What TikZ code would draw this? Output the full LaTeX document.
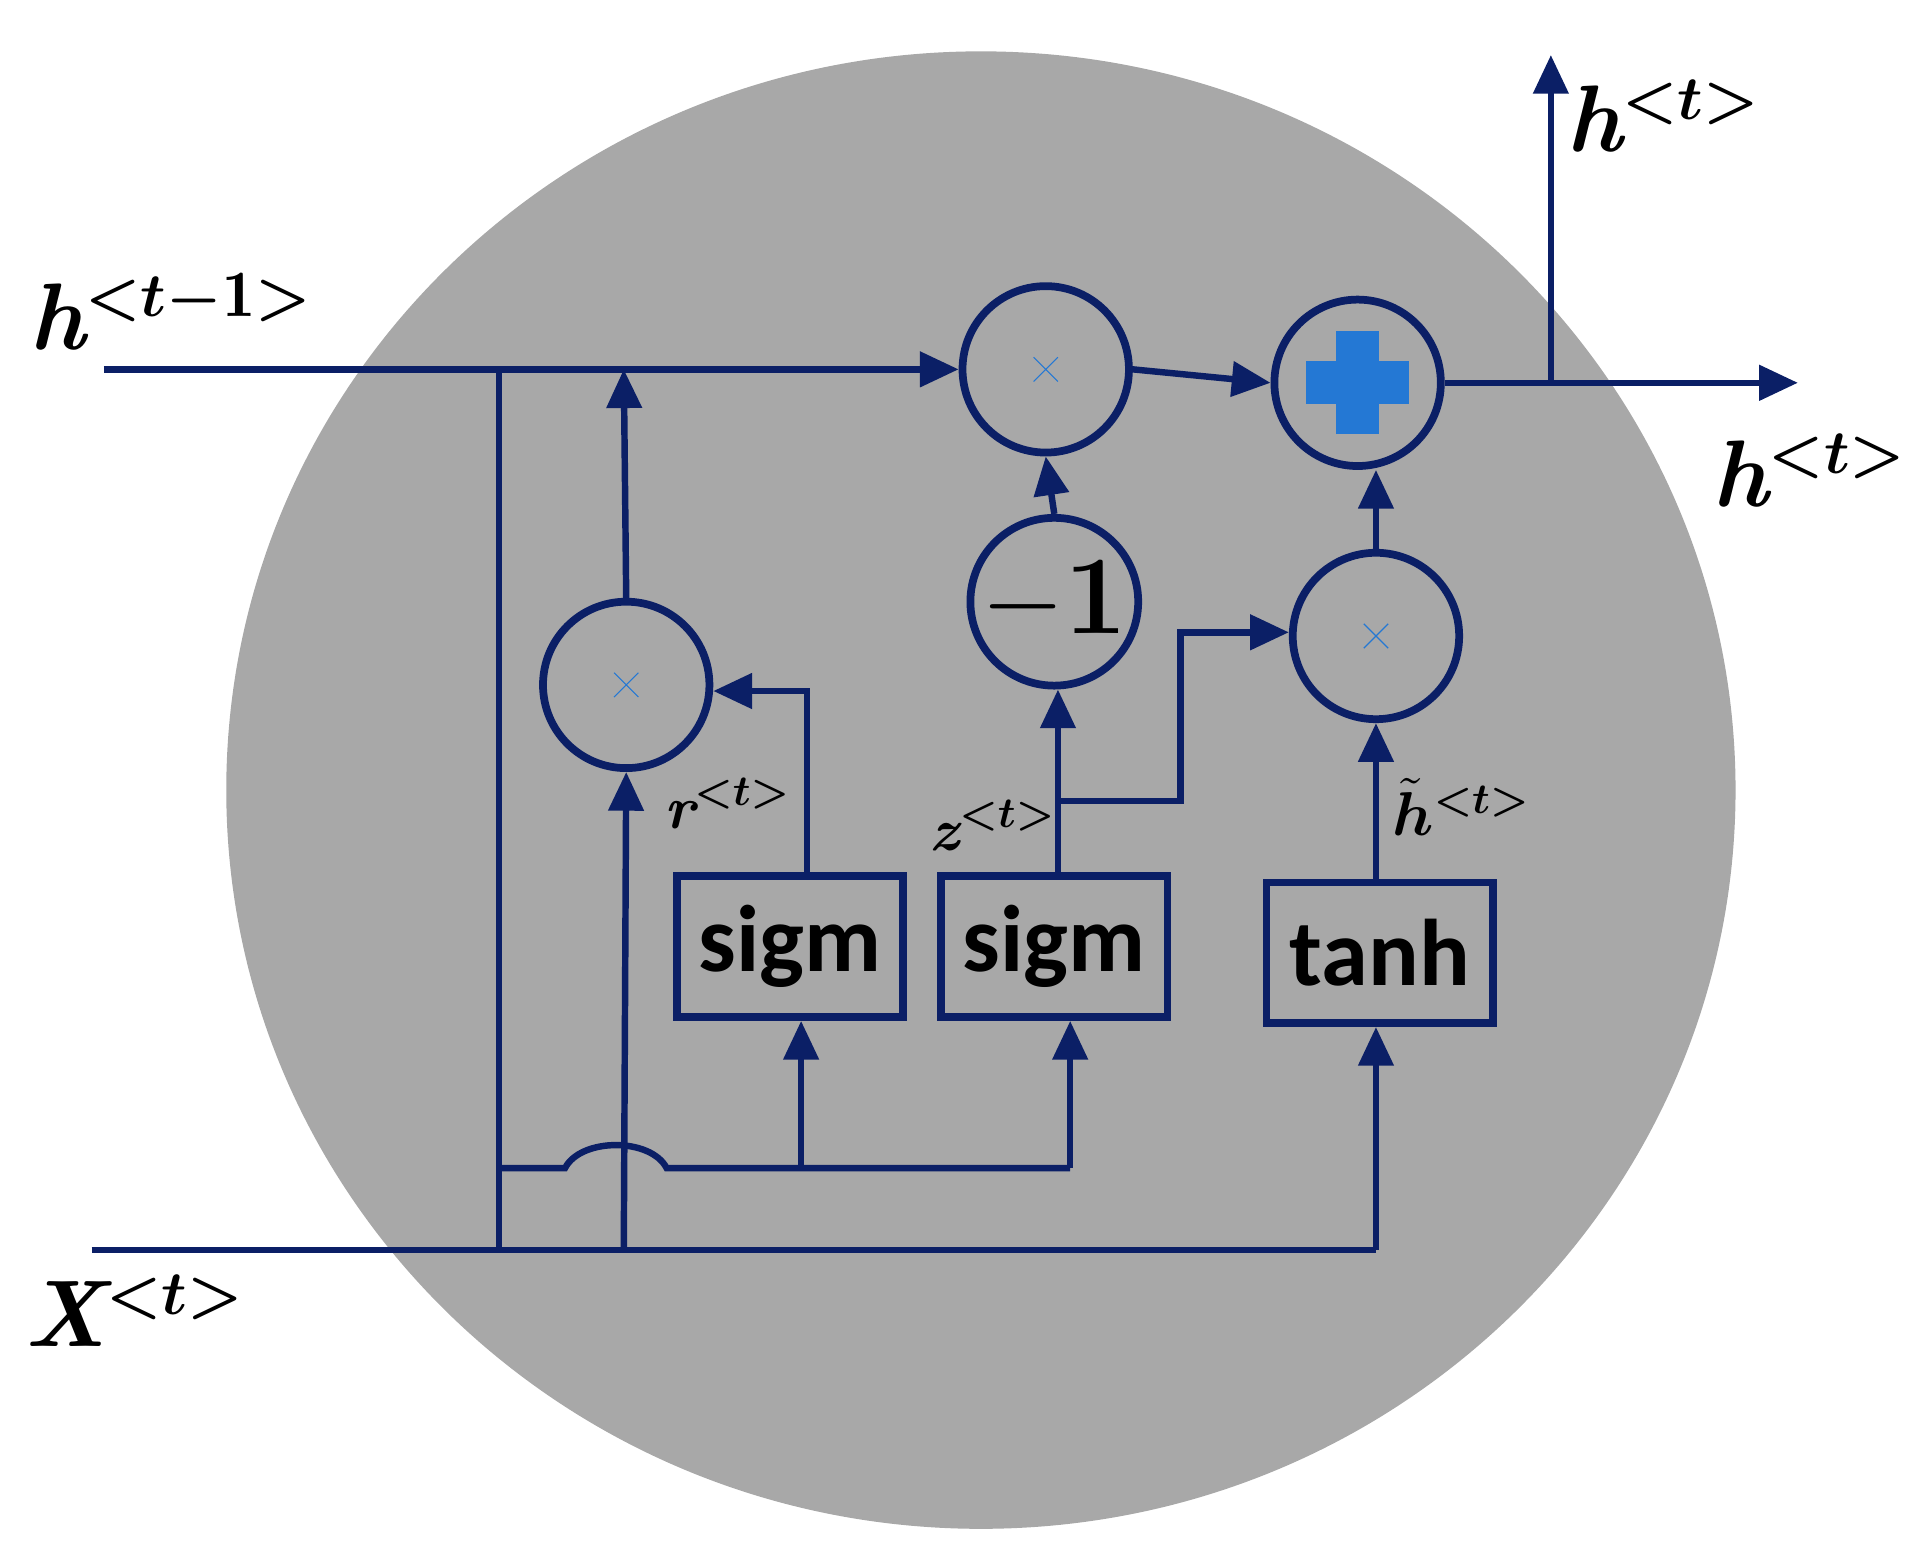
\documentclass[tikz,border=0pt]{standalone}
\usepackage{amsmath}
\usepackage{bm}
\usepackage{fontspec}
\newfontfamily\boxfont{Carlito}
\usetikzlibrary{arrows.meta}
\definecolor{navy}{HTML}{0B1F66}
\definecolor{xblue}{HTML}{2478D4}
\definecolor{bg}{HTML}{A8A8A8}
\tikzset{
 ln/.style={navy,line width=1.5pt},
 ar/.style={ln,-{Triangle[length=9pt,width=8pt]}},
 op/.style={circle,draw=navy,line width=1.8pt,minimum size=1.36cm,inner sep=0pt},
 fn/.style={draw=navy,line width=1.8pt,minimum width=1.85cm,minimum height=1.15cm,font=\boxfont\bfseries\fontsize{22}{26}\selectfont},
 lab/.style={font=\bfseries\itshape\fontsize{22}{26}\selectfont,text=black},
 slab/.style={font=\bfseries\itshape\fontsize{14}{16}\selectfont,text=black}
}
\newcommand{\mycross}[1]{\draw[xblue,line width=8pt] ([shift={(-0.33,0.33)}]#1.center) -- ([shift={(0.33,-0.33)}]#1.center) ([shift={(-0.33,-0.33)}]#1.center) -- ([shift={(0.33,0.33)}]#1.center);}
\begin{document}
\begin{tikzpicture}[x=0.01cm,y=-0.01cm]
\useasboundingbox (0,0) rectangle (1560,1280);
\fill[bg] (802,646) ellipse [x radius=617,y radius=604];
\node[op] (m1) at (855,302) {};
\node[op] (pl) at (1110,313) {};
\node[op] (m2) at (1125,520) {};
\node[op,font=\bfseries\fontsize{26}{30}\selectfont,minimum size=1.24cm] (neg) at (862,492) {$-$1};
\node[op] (m3) at (512,560) {};
\mycross{m1}\mycross{m2}\mycross{m3}
\draw[xblue,line width=10pt] ([yshift=-0.42cm]pl.center) -- ([yshift=0.42cm]pl.center) ([xshift=-0.42cm]pl.center) -- ([xshift=0.42cm]pl.center);
\node[fn] (s1) at (646,774) {sigm};
\node[fn] (s2) at (862,774) {sigm};
\node[fn] (th) at (1128,779) {tanh};
\coordinate (hin) at (85,302);
\coordinate (xin) at (75,1022);
\coordinate (hout) at (1470,313);
\coordinate (hup) at (1268,45);
\coordinate (hj) at (1268,313);
\draw[ar] (hin) -- (m1.west);
\draw[ln] (408,302) -- (408,1022);
\draw[ln] (xin) -- (1125,1022);
\draw[ar] (1125,1022) -- (1125,1022|-th.south);
\draw[ar] (510,1022) -- (m3.south);
\draw[ar] (m3.north) -- (510,302);
\draw[ln] (408,955) -- (462,955) .. controls (475,930) and (532,930) .. (545,955) -- (875,955);
\draw[ar] (655,955) -- (655,955|-s1.south);
\draw[ar] (875,955) -- (875,955|-s2.south);
\draw[ar] (660,774|-s1.north) -- (660,565) -- (m3.east|-660,565);
\draw[ar] (865,774|-s2.north) -- (865,774|-neg.south);
\draw[ar] (865,655) -- (965,655) -- (965,517) -- (m2.west|-965,517);
\draw[ar] (neg.north) -- (m1.south);
\draw[ar] (m1.east) -- (pl.west);
\draw[ar] (1125,779|-th.north) -- (m2.south);
\draw[ar] (m2.north) -- (m2.north|-pl.south);
\draw[ar] (pl.east) -- (hout);
\draw[ar] (hj) -- (hup);
\node[lab] at (140,255) {h$^{\bm{<}\bm{t}\bm{-}\mathbf{1}\bm{>}}$};
\node[lab] at (1360,95) {h$^{\bm{<}\bm{t}\bm{>}}$};
\node[lab] at (1480,385) {h$^{\bm{<}\bm{t}\bm{>}}$};
\node[lab] at (110,1072) {X$^{\bm{<}\bm{t}\bm{>}}$};
\node[slab] at (595,657) {r$^{\bm{<}\bm{t}\bm{>}}$};
\node[slab] at (812,675) {z$^{\bm{<}\bm{t}\bm{>}}$};
\node[slab] at (1195,660) {$\tilde{\bm{h}}^{\bm{<}\bm{t}\bm{>}}$};
\end{tikzpicture}
\end{document}
